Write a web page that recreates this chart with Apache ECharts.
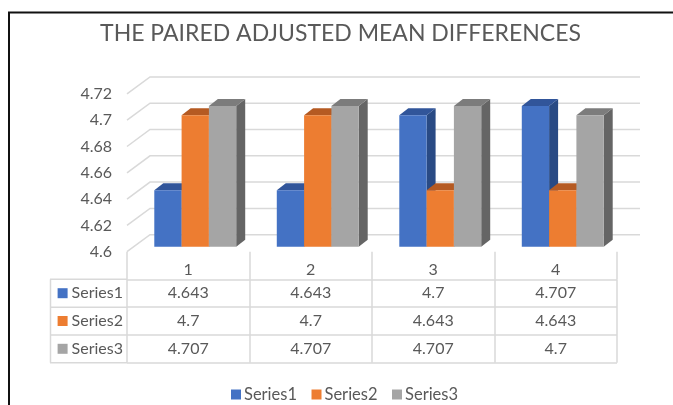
<!DOCTYPE html>
<html>
<head>
<meta charset="utf-8">
<style>
html, body { margin: 0; padding: 0; background: #fff; }
#chart { width: 673px; height: 405px; }
</style>
<script src="https://cdn.jsdelivr.net/npm/echarts@6/dist/echarts.min.js"></script>
</head>
<body>
<div id="chart"></div>
<script>
const categories = ['1', '2', '3', '4'];
const seriesNames = ['Series1', 'Series2', 'Series3'];
const series1 = [4.643, 4.643, 4.7, 4.707];
const series2 = [4.7, 4.7, 4.643, 4.643];
const series3 = [4.707, 4.707, 4.707, 4.7];
const yTicks = [4.6, 4.62, 4.64, 4.66, 4.68, 4.7, 4.72];

const values = [series1, series2, series3];
const front = ['#4472C4', '#ED7D31', '#A5A5A5'];
const top_ = ['#31559A', '#B55A22', '#7C7C7C'];
const side = ['#294A84', '#B55A22', '#656565'];
const gridColor = '#D9D9D9';
const textColor = '#595959';
const fontFamily = 'Lato';

// floor depth of the 3d box and where the bars sit inside it
const wallDx = 23, wallDy = -17;
const barDx = 7, barDy = -5;
const depthDx = 9, depthDy = -7;
const barShare = 0.2229;

function poly(points, fill) {
  return { type: 'polygon', shape: { points }, style: { fill } };
}

function barRender(s) {
  return function (params, api) {
    const cat = api.value(0);
    const base = api.coord([cat, yTicks[0]]);
    const head = api.coord([cat, api.value(1)]);
    const w = api.size([1, 0])[0] * barShare;
    const x0 = base[0] + barDx + (s - 1.5) * w;
    const x1 = x0 + w;
    const y0 = base[1] + barDy;
    const y1 = head[1] + barDy;
    return {
      type: 'group',
      children: [
        poly([[x1, y0], [x1 + depthDx, y0 + depthDy], [x1 + depthDx, y1 + depthDy], [x1, y1]], side[s]),
        poly([[x0, y1], [x0 + depthDx, y1 + depthDy], [x1 + depthDx, y1 + depthDy], [x1, y1]], top_[s]),
        poly([[x0, y0], [x1, y0], [x1, y1], [x0, y1]], front[s])
      ]
    };
  };
}

function wallRender(params, api) {
  const p = api.coord([0, api.value(0)]);
  const left = params.coordSys.x;
  const right = left + params.coordSys.width;
  return {
    type: 'polyline',
    shape: { points: [[left, p[1]], [left + wallDx, p[1] + wallDy], [right + wallDx, p[1] + wallDy]] },
    style: { stroke: gridColor, lineWidth: 1.5, fill: null }
  };
}

function cellRender(params, api) {
  const p = api.coord([api.value(0), api.value(1)]);
  return {
    type: 'text',
    x: p[0],
    y: p[1],
    style: {
      text: String(api.value(2)),
      fill: textColor,
      font: '16px ' + fontFamily,
      align: 'center',
      verticalAlign: 'middle'
    }
  };
}

const cells = [];
values.forEach((vals, s) => vals.forEach((v, c) => cells.push([c, s, v])));

const tableLines = [279.3, 307.3, 335, 362.7].map(y => ({
  type: 'line',
  shape: { x1: 50, y1: y, x2: 127, y2: y },
  style: { stroke: gridColor, lineWidth: 1.5 }
}));
tableLines.push({
  type: 'line',
  shape: { x1: 50.5, y1: 279.3, x2: 50.5, y2: 362.7 },
  style: { stroke: gridColor, lineWidth: 1.5 }
});

const rich = {};
seriesNames.forEach((n, i) => {
  rich['k' + i] = { width: 10, height: 10, backgroundColor: front[i] };
});
rich.t = { color: textColor, fontSize: 16, fontFamily, padding: [0, 0, 0, 4] };

const chart = echarts.init(document.getElementById('chart'));
chart.setOption({
  animation: false,
  backgroundColor: '#fff',
  title: {
    text: 'THE PAIRED ADJUSTED MEAN DIFFERENCES',
    left: 335.5,
    top: 17,
    textAlign: 'center',
    textStyle: { color: textColor, fontSize: 23, fontWeight: 'normal', fontFamily }
  },
  legend: {
    data: seriesNames,
    left: 226,
    top: 381,
    icon: 'rect',
    itemWidth: 10,
    itemHeight: 10,
    itemGap: 14.5,
    textStyle: { color: textColor, fontSize: 16.5, fontFamily, padding: [0, 0, 0, -2] }
  },
  grid: [
    { left: 127, top: 93.9, width: 490, height: 157.8 },
    { left: 127, top: 279.3, width: 490, height: 83.4 }
  ],
  xAxis: [
    {
      type: 'category',
      data: categories,
      gridIndex: 0,
      axisLine: { show: false },
      axisTick: { show: true, length: 27.6, lineStyle: { color: gridColor, width: 1.5 } },
      axisLabel: { color: textColor, fontSize: 16, fontFamily, margin: 10 }
    },
    {
      type: 'category',
      data: categories,
      gridIndex: 1,
      axisLine: { show: false },
      axisTick: { show: false },
      axisLabel: { show: false },
      splitLine: { show: true, interval: 0, lineStyle: { color: gridColor, width: 1.5 } }
    }
  ],
  yAxis: [
    {
      type: 'value',
      gridIndex: 0,
      min: 4.6,
      max: 4.72,
      interval: 0.02,
      axisLine: { show: false },
      axisTick: { show: false },
      splitLine: { show: false },
      axisLabel: { color: textColor, fontSize: 16, fontFamily, margin: 15 }
    },
    {
      type: 'category',
      data: seriesNames,
      gridIndex: 1,
      inverse: true,
      axisLine: { show: false },
      axisTick: { show: false },
      splitLine: { show: true, interval: 0, lineStyle: { color: gridColor, width: 1.5 } },
      axisLabel: {
        margin: 4,
        rich,
        formatter: (v, i) => '{k' + i + '|}{t|' + v + '}'
      }
    }
  ],
  graphic: [
    {
      type: 'rect',
      shape: { x: 9, y: 12.5, width: 700, height: 400 },
      style: { fill: null, stroke: '#111', lineWidth: 2 },
      silent: true,
      z: 10
    }
  ].concat(tableLines),
  series: [
    {
      type: 'custom',
      xAxisIndex: 0,
      yAxisIndex: 0,
      clip: false,
      renderItem: wallRender,
      encode: { x: 1, y: 0 },
      data: yTicks.map(v => [v, 0]),
      silent: true
    }
  ].concat(seriesNames.map((name, s) => ({
    name,
    type: 'custom',
    xAxisIndex: 0,
    yAxisIndex: 0,
    clip: false,
    itemStyle: { color: front[s] },
    renderItem: barRender(s),
    encode: { x: 0, y: 1 },
    data: values[s].map((v, c) => [c, v])
  }))).concat([
    {
      type: 'custom',
      xAxisIndex: 1,
      yAxisIndex: 1,
      renderItem: cellRender,
      encode: { x: 0, y: 1 },
      data: cells,
      silent: true
    }
  ])
});
</script>
</body>
</html>
